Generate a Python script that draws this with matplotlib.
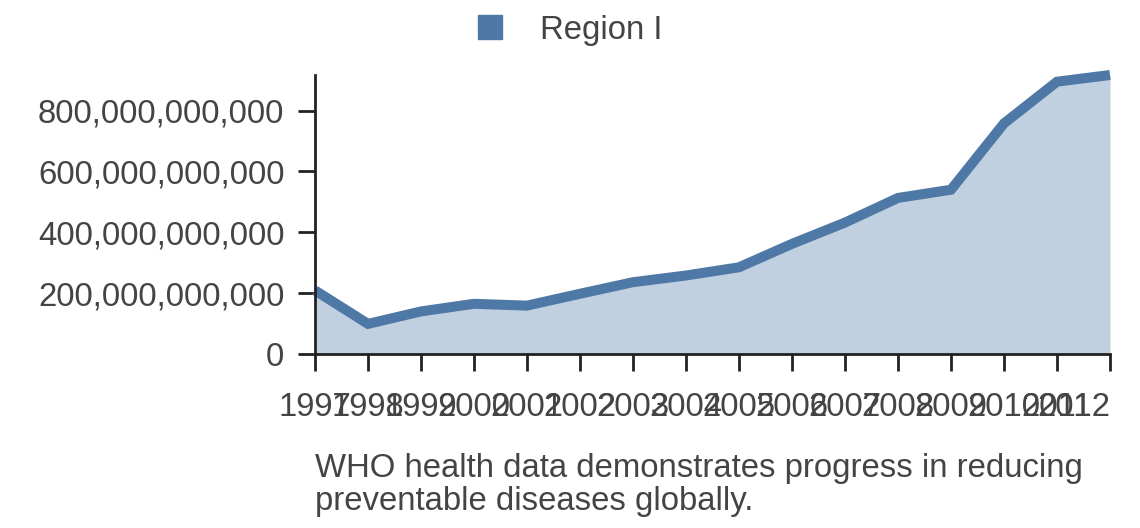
import matplotlib
matplotlib.use("Agg")
import matplotlib.pyplot as plt
from matplotlib.patches import Patch
from matplotlib.ticker import FuncFormatter

years = [1997, 1998, 1999, 2000, 2001, 2002, 2003, 2004, 2005, 2006, 2007, 2008, 2009, 2010, 2011, 2012]
values = [209e9, 99e9, 140e9, 165e9, 159e9, 198e9, 236e9, 258e9, 285e9, 362e9, 432e9, 513e9, 540e9, 758e9, 895e9, 917e9]
series_name = "Region I"
caption = "WHO health data demonstrates progress in reducing\npreventable diseases globally."
yticks = [0, 200e9, 400e9, 600e9, 800e9]

line_color = "#4e79a7"
text_color = "#444444"
fs = 23.7

plt.rcParams['font.family'] = ['Liberation Sans', 'DejaVu Sans']

fig = plt.figure(figsize=(11.4, 5.28), dpi=100)
W, H = 1140, 528
ax = fig.add_axes([315 / W, 1 - 354 / H, (1110 - 315) / W, (354 - 75) / H])

ax.fill_between(years, values, 0, color=line_color, alpha=0.35, linewidth=0)
ax.plot(years, values, color=line_color, linewidth=7.2, solid_joinstyle='miter',
        solid_capstyle='butt', clip_on=False)

ax.set_xlim(years[0], years[-1])
ax.set_ylim(0, max(values))
ax.set_xticks(years)
ax.set_xticklabels([str(y) for y in years])
ax.set_yticks(yticks)
ax.yaxis.set_major_formatter(FuncFormatter(lambda v, p: f"{int(round(v)):,}"))

for s in ['top', 'right']:
    ax.spines[s].set_visible(False)
for s in ['left', 'bottom']:
    ax.spines[s].set_color('#222222')
    ax.spines[s].set_linewidth(2)

ax.tick_params(axis='both', which='major', length=12, width=2, color='#222222',
               labelsize=fs, labelcolor=text_color)
ax.tick_params(axis='x', pad=15)
ax.tick_params(axis='y', pad=10)
ax.get_xticklabels()[-1].set_horizontalalignment('right')

handle = Patch(facecolor=line_color, edgecolor=line_color, label=series_name)
leg = fig.legend(handles=[handle], loc='center', bbox_to_anchor=(0.5, 1 - 30 / H),
                 frameon=False, fontsize=fs, handlelength=0.74, handleheight=0.74,
                 handletextpad=1.15, borderpad=0)
for t in leg.get_texts():
    t.set_color(text_color)

fig.text(315 / W, 1 - 453 / H, caption, ha='left', va='top', fontsize=fs,
         color=text_color, linespacing=1.08)

fig.savefig("out.png", dpi=100)
